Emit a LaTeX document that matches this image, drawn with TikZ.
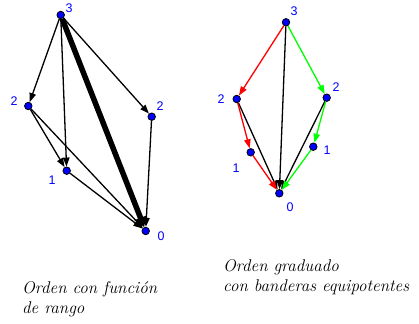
\documentclass[tikz,border=0pt]{standalone}
\usepackage{fontspec}
\usepackage{tikz}
\usetikzlibrary{arrows.meta}
\newfontfamily\lblfont{Liberation Sans}

\begin{document}
\begin{tikzpicture}[
			x=1pt, y=-1pt,
			dot/.style={
				circle, draw=black, fill=blue, line width=0.8pt,
				inner sep=0pt, minimum size=7.5pt
			},
			lbl/.style={text=blue, font=\lblfont\fontsize{12.5}{14}\selectfont, inner sep=0pt},
			caption/.style={font=\fontsize{17}{20}\selectfont\itshape, align=left, inner sep=0pt},
			arrow/.style={
				-{Triangle[length=9pt,width=6.5pt]},
				line width=1.3pt
			},
			heavy/.style={
				-{Triangle[length=10pt,width=12pt]},
				line width=5.5pt
			}
			]
			\useasboundingbox (0,0) rectangle (419,323);
			
			% rank function order
			\node[dot] (a3) at (60.7,15) {};
			\node[dot] (a2l) at (28.3,106) {};
			\node[dot] (a2r) at (151.7,116.7) {};
			\node[dot] (a1) at (66.7,170.7) {};
			\node[dot] (a0) at (145.7,231) {};
			
			\node[lbl] (la3) at (69,8) {3};
			\node[lbl] (la2l) at (14,101) {2};
			\node[lbl] (la2r) at (160,106) {2};
			\node[lbl] (la1) at (52,180) {1};
			\node[lbl] (la0) at (161,236) {0};
			
			\draw[arrow] (a3) -- (a2l);
			\draw[arrow] (a3) -- (a2r);
			\draw[arrow] (a3) -- (a1);
			\draw[arrow] (a2l) -- (a1);
			\draw[arrow] (a2l) -- (a0);
			\draw[arrow] (a1) -- (a0);
			\draw[arrow] (a2r) -- (a0);
			\draw[heavy] (a3) -- (a0);
			
			% graded order
			\node[dot] (b3) at (286,22.3) {};
			\node[dot] (b2l) at (236.7,99) {};
			\node[dot] (b2r) at (326.7,97.7) {};
			\node[dot] (b1l) at (250.7,152.3) {};
			\node[dot] (b1r) at (313.3,146.7) {};
			\node[dot] (b0) at (279.3,193.3) {};
			
			\node[lbl] (lb3) at (294,11) {3};
			\node[lbl] (lb2l) at (221,99) {2};
			\node[lbl] (lb2r) at (336,87) {2};
			\node[lbl] (lb1l) at (236,168) {1};
			\node[lbl] (lb1r) at (327,150) {1};
			\node[lbl] (lb0) at (290,207) {0};
			
			\draw[arrow] (b3) -- (b0);
			\draw[arrow] (b2l) -- (b0);
			\draw[arrow] (b2r) -- (b0);
			\draw[arrow, red] (b3) -- (b2l);
			\draw[arrow, red] (b2l) -- (b1l);
			\draw[arrow, red] (b1l) -- (b0);
			\draw[arrow, green] (b3) -- (b2r);
			\draw[arrow, green] (b2r) -- (b1r);
			\draw[arrow, green] (b1r) -- (b0);
			
			\node[caption, anchor=base west] (capa) at (22,313) {Orden con función\\de rango};
			\node[caption, anchor=base west] (capb) at (223,291) {Orden graduado\\con banderas equipotentes};
		\end{tikzpicture}
\end{document}
